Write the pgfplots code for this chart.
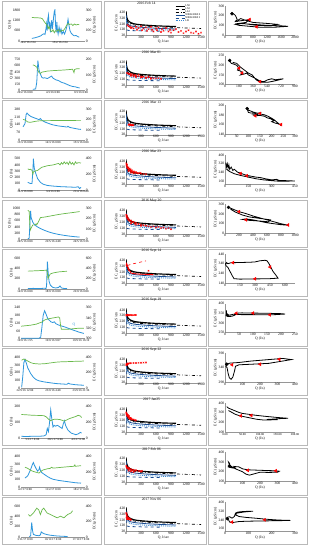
\documentclass[border=0pt]{standalone}
\usepackage{fontspec}
\setmainfont{Liberation Serif}
\usepackage{pgfplots}
\pgfplotsset{compat=1.18}
\usepackage{pgfplotstable}

\definecolor{qblue}{RGB}{45,150,220}
\definecolor{ecgreen}{RGB}{105,185,75}
\definecolor{wbnavy}{RGB}{25,75,145}
\definecolor{lrblue}{RGB}{55,135,210}
\definecolor{framegray}{RGB}{185,185,185}
\definecolor{axgray}{RGB}{150,150,150}
\newcommand\fs{\fontsize{3.7}{4.1}\selectfont}
\newcommand\fd{\fontsize{3.0}{3.3}\selectfont}
\newcommand\fl{\fontsize{2.8}{3}\selectfont}

\pgfplotstableread{
x y
2 430
5 400
10 360
20 320
40 280
70 255
100 240
150 225
200 215
300 205
400 198
500 192
600 187
800 180
1000 175
}\LSzero
\pgfplotstableread{
x y
2 420
5 390
10 350
20 305
40 265
70 240
100 228
200 210
300 200
400 193
500 188
600 184
}\LStwo
\pgfplotstableread{
x y
2 400
5 360
10 320
20 280
40 245
70 225
100 212
200 195
300 186
500 175
700 168
900 160
1100 153
1300 147
1500 140
}\LLtwo
\pgfplotstableread{
x y
2 380
5 330
10 290
20 250
40 215
70 195
100 185
200 170
400 155
600 145
800 138
1000 132
}\WBzero
\pgfplotstableread{
x y
2 220
5 160
10 130
20 115
50 108
100 105
300 100
500 97
700 95
}\WBtwo
\pgfplotstableread{
x y
2 350
5 290
10 250
20 215
40 185
70 165
100 155
200 140
400 128
600 120
800 114
1000 110
}\LRc

\pgfplotsset{
 base/.style={scale only axis, anchor=south west, font=\fs,
   tick label style={font=\fs, inner sep=0.6pt},
   label style={font=\fs, inner sep=0.6pt},
   /pgf/number format/assume math mode=true,
   /pgf/number format/1000 sep={},
   major tick length=0pt,
   axis line style={draw=axgray, line width=0.4pt},
   scaled ticks=false, clip=true},
 tsL/.style={base, at={(21pt,-40pt)}, width=64pt, height=32pt,
   axis x line*=bottom, axis y line*=left, y axis line style={draw=none},
   xticklabel style={font=\fd, inner sep=0.8pt},
   ylabel={Q (l/s)}, ymin=0},
 tsR/.style={base, at={(21pt,-40pt)}, width=64pt, height=32pt,
   axis x line=none, axis y line*=right, y axis line style={draw=none},
   ylabel={EC (µS/cm)}, ymin=0},
 tsx/.style={xmin=-0.143, xmax=2.143, xtick={0,1,2}},
 qline/.style={qblue, line width=0.8pt},
 ecline/.style={ecgreen, line width=0.7pt},
 ecq/.style={base, at={(126pt,-34.5pt)}, width=75pt, height=25pt,
   xmin=0, xmax=1500, ymin=20, ymax=450,
   xtick={0,300,...,1500}, ytick={20,120,220,320,420},
   axis x line*=bottom, axis y line*=left,
   xlabel={Q, l/sec}, ylabel={EC, µS/cm},
   title style={font=\fs, at={(0.34,0.99)}, anchor=south, inner sep=0.5pt}},
 hys/.style={base, at={(225pt,-34pt)}, width=70pt, height=29pt,
   axis x line*=bottom, axis y line*=left,
   xlabel={Q (l/s)}, ylabel={EC (µS/cm)}},
 hline/.style={black, line width=0.8pt},
 arr/.style={only marks, mark=triangle*, red, mark size=1.7pt, mark options={rotate=90}},
 start/.style={only marks, mark=*, black, mark size=1.5pt},
 redpts/.style={only marks, mark=x, red, mark size=1pt, line width=0.45pt},
}
\newcommand\refcurves{%
 \addplot[black, line width=1.1pt] table {\LSzero};
 \addplot[black, dashed, line width=0.7pt] table {\LStwo};
 \addplot[black, dash dot, line width=0.7pt] table {\LLtwo};
 \addplot[wbnavy, line width=0.8pt] table {\WBzero};
 \addplot[wbnavy, dashed, line width=0.8pt] table {\WBtwo};
 \addplot[lrblue, densely dotted, line width=0.9pt] table {\LRc};
}
\newcommand\frames{%
 \draw[framegray, line width=0.6pt] (2pt,-0.5pt) rectangle (101pt,-47.5pt);
 \draw[framegray, line width=0.6pt] (104pt,-0.5pt) rectangle (206pt,-47.5pt);
 \draw[framegray, line width=0.6pt] (208pt,-0.5pt) rectangle (307pt,-47.5pt);
}

\begin{document}
\begin{tikzpicture}
\fill[white] (0pt,0pt) rectangle (310pt,-550pt);
\useasboundingbox (0pt,0pt) rectangle (310pt,-550pt);

% ---------------- Row 1 ----------------
\begin{scope}[yshift=-1pt]
\frames
\begin{axis}[tsL, xmin=-0.22, xmax=1.78, xtick={0,1}, xticklabels={14/2/16 2:24,15/2/16 2:24}, ymax=1850, ytick={0,600,1200,1800}]
\addplot[qline] coordinates {(0.12,150)(0.2,180)(0.3,230)(0.4,300)(0.45,380)(0.5,420)(0.53,380)(0.56,700)(0.58,1000)(0.6,600)(0.62,1300)(0.64,1500)(0.66,800)(0.68,1100)(0.7,500)(0.72,900)(0.74,1200)(0.76,700)(0.78,1000)(0.8,1400)(0.82,1700)(0.84,1800)(0.86,900)(0.88,500)(0.9,1100)(0.92,600)(0.94,400)(0.97,800)(1.0,500)(1.03,700)(1.06,400)(1.1,550)(1.14,400)(1.18,600)(1.22,900)(1.25,1250)(1.28,900)(1.31,600)(1.35,450)(1.4,350)(1.45,300)(1.5,320)(1.55,260)(1.6,220)};
\end{axis}
\begin{axis}[tsR, xmin=-0.22, xmax=1.78, ymax=310, ytick={0,100,200,300}]
\addplot[ecline] coordinates {(0.12,228)(0.2,226)(0.3,225)(0.4,222)(0.45,215)(0.5,190)(0.55,170)(0.6,150)(0.63,120)(0.66,140)(0.7,100)(0.74,90)(0.78,110)(0.82,80)(0.86,100)(0.9,95)(0.95,110)(1.0,90)(1.05,105)(1.1,100)(1.15,120)(1.2,150)(1.25,170)(1.3,160)(1.35,165)(1.4,150)(1.45,165)(1.5,155)(1.55,160)(1.6,158)};
\end{axis}
\begin{axis}[ecq, title={2016 Feb 14}, title style={at={(0.27,0.99)}},
  legend entries={LS0,LS2,LL2,WB524069 0,WB524069 2,LR},
  legend style={at={(1,1.27)}, anchor=north east, font=\fl, draw=none, fill=white, inner sep=0.3pt, row sep=-0.8pt, nodes={inner sep=0.2pt}, cells={anchor=west}},
  legend image code/.code={\draw[#1] (0pt,0pt) -- (9pt,0pt);}]
\refcurves
\addplot[redpts] coordinates {(30,200)(50,180)(80,170)(100,150)(120,160)(150,140)(200,170)(220,120)(250,150)(300,180)(320,110)(350,140)(400,160)(420,100)(450,130)(500,170)(520,120)(550,90)(600,140)(620,110)(650,160)(700,80)(720,130)(750,100)(800,150)(850,90)(880,120)(900,70)(950,110)(1000,130)(1050,80)(1100,100)(1150,60)(1200,90)(1250,110)(1300,70)(1350,60)(1400,90)(1450,50)(1500,70)};
\end{axis}
\begin{axis}[hys, xmin=0, xmax=2000, ymin=0, ymax=300, xtick={0,400,...,2000}, ytick={0,100,200,300}]
\addplot[hline] coordinates {(200,220)(260,215)(300,200)(350,160)(300,140)(500,150)(700,160)(600,130)(400,120)(800,110)(1200,100)(1600,95)(1800,90)(1400,80)(1000,80)(700,90)(400,100)(300,110)(500,120)(900,100)(1300,95)(1500,110)(1200,120)(800,130)(600,150)(450,170)(400,160)(350,140)(300,150)};
\addplot[arr] coordinates {(700,160)(900,85)};
\addplot[start] coordinates {(200,220)};
\end{axis}
\end{scope}

% ---------------- Row 2 ----------------
\begin{scope}[yshift=-50.6pt]
\frames
\begin{axis}[tsL, tsx, xticklabels={29/2/16 0:00,4/3/16 0:00,9/3/16 0:00}, ymax=770, ytick={0,150,300,450,600,750}]
\addplot[qline] coordinates {(0.28,30)(0.38,40)(0.42,200)(0.46,720)(0.5,500)(0.55,400)(0.6,320)(0.65,300)(0.7,310)(0.8,290)(0.9,330)(0.95,350)(1.0,300)(1.1,260)(1.2,240)(1.3,200)(1.4,180)(1.5,150)(1.6,120)(1.7,100)(1.8,90)(1.9,70)(1.95,65)};
\end{axis}
\begin{axis}[tsR, tsx, ymax=205, ytick={0,100,200}]
\addplot[ecline] coordinates {(0.28,165)(0.35,160)(0.42,150)(0.46,130)(0.5,115)(0.55,110)(0.6,118)(0.8,125)(1.0,128)(1.2,130)(1.4,132)(1.6,135)(1.7,137)(1.75,115)(1.77,135)(1.85,140)(1.95,140)};
\end{axis}
\begin{axis}[ecq, title={2016 Mar 01}]
\refcurves
\addplot[redpts] coordinates {(20,230)(40,220)(60,210)(80,215)(100,200)(120,205)(150,190)(180,195)(200,180)(250,175)(300,170)(320,160)(350,165)(400,150)(450,155)(500,145)(550,140)(600,135)(650,140)(700,130)(100,180)(200,160)(300,150)(400,140)(500,130)(250,200)(150,170)(450,170)};
\end{axis}
\begin{axis}[hys, xmin=0, xmax=900, ymin=100, ymax=250, xtick={0,180,...,900}, ytick={100,150,200,250}]
\addplot[hline] coordinates {(60,225)(80,210)(120,205)(150,200)(180,185)(160,175)(200,170)(230,160)(200,150)(250,155)(280,160)(300,150)(350,140)(400,130)(450,118)(500,115)(550,125)(600,130)(650,125)(700,128)(750,130)(650,120)(550,112)(450,113)(400,125)(350,150)(300,160)(250,175)(200,190)(150,210)(100,215)};
\addplot[arr] coordinates {(180,185)(220,160)(450,115)};
\addplot[start] coordinates {(60,225)};
\end{axis}
\end{scope}

% ---------------- Row 3 ----------------
\begin{scope}[yshift=-100.2pt]
\frames
\begin{axis}[tsL, tsx, xticklabels={13/3/16 0:00,14/3/16 0:00,15/3/16 0:00}, ymax=288, ytick={0,70,140,210,280}]
\addplot[qline] coordinates {(-0.07,120)(0.0,150)(0.04,230)(0.07,245)(0.12,230)(0.2,215)(0.29,205)(0.4,195)(0.5,185)(0.55,195)(0.6,180)(0.7,165)(0.8,155)(0.91,145)(1.0,138)(1.2,128)(1.4,122)(1.5,118)(1.53,125)(1.6,115)(1.7,110)(1.8,105)(1.9,100)(2.0,97)};
\end{axis}
\begin{axis}[tsR, tsx, ymax=308, ytick={0,100,200,300}]
\addplot[ecline] coordinates {(-0.07,200)(0.0,195)(0.05,185)(0.1,175)(0.2,172)(0.3,178)(0.4,183)(0.5,186)(0.7,188)(1.0,189)(1.5,190)(2.0,191)};
\end{axis}
\begin{axis}[ecq, title={2016 Mar 13}]
\refcurves
\addplot[redpts] coordinates {(50,195)(60,190)(70,200)(80,185)(90,192)(100,188)(110,183)(120,190)(130,185)(140,182)(150,180)};
\end{axis}
\begin{axis}[hys, xmin=0, xmax=300, ymin=140, ymax=200, xtick={0,50,...,300}, ytick={140,160,180,200}]
\addplot[hline] coordinates {(95,193)(98,188)(100,185)(110,184)(130,183)(150,184)(140,181)(120,180)(130,178)(150,179)(170,177)(180,174)(195,172)(210,168)(200,166)(215,163)(225,162)(235,160)(240,158)(230,162)(220,166)(210,170)(200,173)(185,177)(170,180)(150,182)(120,186)(100,190)(95,193)};
\addplot[arr] coordinates {(150,183)(130,178)(240,160)};
\addplot[start] coordinates {(95,193)};
\end{axis}
\end{scope}

% ---------------- Row 4 ----------------
\begin{scope}[yshift=-149.8pt]
\frames
\begin{axis}[tsL, tsx, xticklabels={16/3/16 0:00,3/4/16 0:00,21/4/16 0:00}, ymax=515, ytick={0,100,200,300,400,500}]
\addplot[qline] coordinates {(0.1,120)(0.15,110)(0.2,100)(0.25,100)(0.28,300)(0.3,500)(0.33,350)(0.38,270)(0.45,180)(0.55,120)(0.65,90)(0.8,70)(1.0,60)(1.3,50)(1.6,45)(1.8,40)(1.9,50)(1.95,20)(2.0,40)};
\end{axis}
\begin{axis}[tsR, tsx, ymax=412, ytick={0,200,400}]
\addplot[ecline] coordinates {(0.1,270)(0.15,260)(0.2,265)(0.25,250)(0.28,200)(0.3,230)(0.35,240)(0.45,250)(0.6,290)(0.8,310)(1.0,320)(1.1,330)(1.2,340)(1.25,320)(1.3,350)(1.35,330)(1.4,360)(1.45,335)(1.5,355)(1.55,325)(1.6,365)(1.65,330)(1.7,350)(1.75,320)(1.8,360)(1.85,340)(1.9,350)(2.0,345)};
\end{axis}
\begin{axis}[ecq, title={2016 Mar 23}]
\refcurves
\addplot[redpts] coordinates {(5,380)(10,350)(15,330)(20,360)(25,300)(30,320)(40,290)(50,310)(60,270)(70,290)(80,260)(90,280)(100,250)(110,240)(120,260)(140,230)(160,240)(180,220)(200,230)(220,215)(250,210)(280,220)(300,205)(350,200)(400,195)(50,250)(100,220)(150,210)};
\end{axis}
\begin{axis}[hys, xmin=0, xmax=450, ymin=140, ymax=400, xtick={0,150,300,450}, ytick={160,240,320,400}]
\addplot[hline] coordinates {(5,330)(10,290)(15,320)(20,280)(25,310)(30,270)(40,290)(50,260)(60,270)(80,245)(100,235)(130,220)(160,210)(200,200)(230,195)(260,185)(300,175)(330,180)(350,170)(400,168)(450,165)(350,163)(300,168)(250,175)(200,185)(150,200)(100,215)(60,230)(30,250)(10,270)};
\addplot[arr] coordinates {(100,232)(140,212)};
\end{axis}
\end{scope}

% ---------------- Row 5 ----------------
\begin{scope}[yshift=-199.4pt]
\frames
\begin{axis}[tsL, tsx, xticklabels={20/5/16 0:00,22/5/16 4:48,24/5/16 9:36}, ymax=1030, ytick={0,200,400,600,800,1000}]
\addplot[qline] coordinates {(0.1,20)(0.15,40)(0.18,600)(0.2,920)(0.22,700)(0.28,550)(0.35,460)(0.45,400)(0.55,350)(0.7,290)(0.85,240)(1.0,200)(1.2,160)(1.4,130)(1.6,105)(1.8,85)(1.95,75)};
\end{axis}
\begin{axis}[tsR, tsx, ymax=308, ytick={0,100,200,300}]
\addplot[ecline] coordinates {(0.1,280)(0.15,270)(0.17,150)(0.19,90)(0.22,110)(0.28,140)(0.35,140)(0.4,150)(0.42,140)(0.5,180)(0.55,210)(0.7,215)(0.8,220)(1.0,230)(1.2,240)(1.4,248)(1.6,255)(1.8,262)(1.95,268)};
\end{axis}
\begin{axis}[ecq, title={2016 May 20}]
\refcurves
\addplot[redpts] coordinates {(5,350)(10,320)(15,300)(20,330)(30,280)(40,300)(50,260)(60,270)(80,240)(100,250)(120,220)(150,230)(180,200)(200,210)(250,190)(300,180)(350,170)(400,160)(450,150)(500,140)(550,150)(600,130)(650,140)(700,120)(750,130)(800,110)(850,120)(900,100)(100,200)(200,180)(300,160)};
\end{axis}
\begin{axis}[hys, xmin=0, xmax=1000, ymin=0, ymax=300, xtick={0,200,...,1000}, ytick={0,100,200,300}]
\addplot[hline] coordinates {(50,270)(100,255)(150,240)(200,225)(300,205)(400,180)(500,160)(600,140)(700,120)(800,100)(900,85)(800,90)(700,100)(600,110)(500,125)(400,140)(300,150)(250,145)(350,135)(450,130)(550,125)(620,120)(650,140)(600,145)(500,155)(350,170)(250,190)(150,220)(80,250)};
\addplot[arr] coordinates {(200,225)(300,140)(900,87)};
\addplot[start] coordinates {(50,270)};
\end{axis}
\end{scope}

% ---------------- Row 6 ----------------
\begin{scope}[yshift=-249pt]
\frames
\begin{axis}[tsL, tsx, xticklabels={14/9/16 0:00,18/9/16 0:00,22/9/16 0:00}, ymax=618, ytick={0,200,400,600}]
\addplot[qline] coordinates {(0.1,10)(0.3,12)(0.5,8)(0.7,15)(0.75,10)(0.77,60)(0.8,530)(0.83,300)(0.86,150)(0.9,80)(0.95,50)(1.0,30)(1.1,20)(1.2,30)(1.25,60)(1.3,20)(1.4,10)(1.5,8)};
\end{axis}
\begin{axis}[tsR, tsx, ymax=618, ytick={0,200,400,600}]
\addplot[ecline] coordinates {(0.1,345)(0.3,350)(0.5,355)(0.7,360)(0.78,365)(0.8,300)(0.82,200)(0.86,250)(0.9,290)(1.0,310)(1.1,320)(1.2,330)(1.3,335)(1.4,340)(1.5,342)};
\end{axis}
\begin{axis}[ecq, title={2016 Sept 14}]
\refcurves
\addplot[red, line width=0.9pt] coordinates {(5,380)(10,360)(20,340)(30,320)(40,300)(50,280)(60,260)(80,230)(100,200)(150,190)(200,185)(300,180)(400,178)(500,175)(550,170)};
\addplot[red, dashed, line width=0.6pt] coordinates {(30,330)(100,350)(200,370)(300,390)(400,410)};
\addplot[redpts] coordinates {(10,340)(20,320)(40,280)(60,250)(450,240)};
\end{axis}
\begin{axis}[hys, xmin=0, xmax=700, ymin=140, ymax=440, xtick={0,150,300,450,600}, ytick={140,240,340,440}]
\addplot[hline] coordinates {(10,320)(5,340)(20,355)(10,345)(30,340)(60,350)(150,352)(250,355)(300,358)(350,370)(400,375)(420,370)(440,340)(460,300)(480,260)(510,220)(530,190)(450,185)(350,183)(250,182)(150,180)(90,185)(70,220)(50,260)(30,300)(10,320)};
\addplot[arr] coordinates {(80,350)(450,305)(300,183)};
\end{axis}
\end{scope}

% ---------------- Row 7 ----------------
\begin{scope}[yshift=-298.6pt]
\frames
\begin{axis}[tsL, tsx, xticklabels={19/9/16 1:55,19/9/16 9:07,19/9/16 16:19}, ymax=247, ytick={0,60,120,180,240},
  after end axis/.code={\node[font=\fs, qblue] at (axis cs:1.75,105) {Q};}]
\addplot[qline] coordinates {(-0.14,2)(0.2,2)(0.5,3)(0.56,10)(0.6,80)(0.65,180)(0.7,215)(0.75,190)(0.82,150)(0.88,140)(0.92,130)(0.99,124)(1.05,130)(1.1,115)(1.2,105)(1.3,98)(1.46,87)(1.6,75)(1.8,60)(1.93,50)(2.1,40)};
\end{axis}
\begin{axis}[tsR, tsx, ymin=300, ymax=362, ytick={300,320,340,360}]
\addplot[ecline] coordinates {(-0.14,324)(0.2,326)(0.4,328)(0.6,332)(0.7,336)(0.8,338)(1.0,340)(1.2,342)(1.24,340)(1.27,325)(1.3,318)(1.5,318)(1.7,319)(1.9,320)(2.1,320)};
\end{axis}
\begin{axis}[ecq, title={2016 Sept 19}]
\refcurves
\addplot[redpts] coordinates {(5,330)(10,320)(15,325)(20,335)(30,330)(40,325)(50,330)(60,328)(80,330)(100,330)(120,328)(150,330)(180,332)(200,330)};
\end{axis}
\begin{axis}[hys, xmin=0, xmax=250, ymin=250, ymax=400, xtick={0,50,...,250}, ytick={250,300,350,400}]
\addplot[hline] coordinates {(5,365)(5,345)(8,335)(15,333)(25,335)(35,340)(40,350)(60,352)(100,351)(150,350)(200,348)(215,346)(180,343)(150,342)(100,343)(60,343)(30,345)(15,340)(5,342)};
\addplot[arr] coordinates {(40,350)(100,351)(160,342)};
\addplot[start] coordinates {(8,340)};
\end{axis}
\end{scope}

% ---------------- Row 8 ----------------
\begin{scope}[yshift=-348.2pt]
\frames
\begin{axis}[tsL, tsx, xticklabels={22/9/16 12:00,23/9/16 4:48,23/9/16 21:36}, ymax=412, ytick={0,100,200,300,400}]
\addplot[qline] coordinates {(-0.12,10)(-0.08,150)(-0.04,330)(0.0,370)(0.05,320)(0.1,260)(0.2,190)(0.3,140)(0.4,110)(0.5,95)(0.7,80)(0.9,70)(1.1,60)(1.3,55)(1.5,50)(1.55,65)(1.6,55)(1.8,45)(2.0,40)(2.1,38)};
\end{axis}
\begin{axis}[tsR, tsx, ymax=412, ytick={0,200,400}]
\addplot[ecline] coordinates {(-0.12,360)(-0.05,375)(0.0,370)(0.1,350)(0.2,330)(0.3,318)(0.5,312)(0.7,315)(0.9,325)(1.1,335)(1.3,340)(1.5,342)(1.7,345)(2.0,348)(2.1,350)};
\end{axis}
\begin{axis}[ecq, title={2016 Sept 22}]
\refcurves
\addplot[redpts] coordinates {(5,320)(10,340)(20,345)(30,350)(50,352)(80,355)(100,356)(150,358)(200,360)(250,362)(300,364)(350,366)(400,368)(20,330)(40,340)};
\end{axis}
\begin{axis}[hys, xmin=0, xmax=400, ymin=290, ymax=390, xtick={0,100,...,400}, ytick={290,340,390}]
\addplot[hline] coordinates {(10,352)(5,345)(12,340)(18,320)(25,305)(35,300)(45,308)(55,330)(60,345)(80,350)(150,352)(250,355)(320,362)(380,368)(330,372)(250,368)(150,363)(80,358)(30,356)(10,352)};
\addplot[arr] coordinates {(40,350)(200,352)(310,369)};
\addplot[start] coordinates {(10,352)};
\end{axis}
\end{scope}

% ---------------- Row 9 ----------------
\begin{scope}[yshift=-397.8pt]
\frames
\begin{axis}[tsL, xmin=-0.5, xmax=2.3, xtick={0,1,2}, xticklabels={5/1/17 0:00,20/1/17 0:00,4/2/17 0:00}, ymax=206, ytick={0,100,200}]
\addplot[qline] coordinates {(-0.48,10)(-0.3,8)(0,10)(0.3,10)(0.5,12)(0.6,20)(0.65,60)(0.7,40)(0.75,100)(0.8,180)(0.85,120)(0.9,70)(0.95,80)(1.0,75)(1.1,80)(1.2,70)(1.3,60)(1.35,90)(1.4,110)(1.45,80)(1.55,50)(1.7,30)(1.9,20)(2.0,25)(2.1,35)(2.15,30)};
\end{axis}
\begin{axis}[tsR, xmin=-0.5, xmax=2.3, ymax=412, ytick={0,200,400}]
\addplot[ecline] coordinates {(-0.48,300)(-0.2,295)(0,290)(0.3,288)(0.5,285)(0.6,270)(0.7,240)(0.8,220)(0.9,235)(1.0,240)(1.1,238)(1.2,235)(1.3,225)(1.4,215)(1.5,230)(1.6,245)(1.7,255)(1.8,265)(1.9,275)(2.0,290)(2.1,280)(2.15,260)};
\end{axis}
\begin{axis}[ecq, title={2017 Jan25}]
\refcurves
\addplot[redpts] coordinates {(5,360)(10,340)(15,320)(20,330)(25,300)(30,310)(40,290)(50,280)(60,270)(70,260)(80,250)(90,270)(100,260)(110,250)(120,240)(150,240)(180,230)(200,225)(60,300)(40,320)};
\end{axis}
\begin{axis}[hys, xmin=0, xmax=200, ymin=100, ymax=400, xtick={0,50,...,200}, xticklabels={0.00,50.00,100.00,150.00,200.00}, xticklabel style={font=\fd, yshift=-0.6pt}, ytick={100,200,300,400}]
\addplot[hline] coordinates {(5,360)(10,345)(20,330)(30,315)(40,300)(50,290)(70,280)(90,270)(110,262)(130,255)(150,248)(180,240)(160,237)(140,232)(120,228)(150,225)(110,222)(90,230)(70,245)(50,260)(40,268)(30,280)(20,300)(10,320)};
\addplot[arr] coordinates {(45,265)(75,270)};
\end{axis}
\end{scope}

% ---------------- Row 10 ----------------
\begin{scope}[yshift=-447.4pt]
\frames
\begin{axis}[tsL, tsx, xticklabels={4/2/17 0:00,11/2/17 0:00,18/2/17 0:00}, ymax=412, ytick={0,100,200,300,400}]
\addplot[qline] coordinates {(0.0,120)(0.1,150)(0.2,230)(0.27,300)(0.3,320)(0.33,290)(0.4,240)(0.45,210)(0.5,230)(0.52,260)(0.55,220)(0.6,190)(0.7,165)(0.8,140)(0.9,120)(1.0,105)(1.2,90)(1.4,80)(1.6,70)(1.8,60)(2.0,55)};
\end{axis}
\begin{axis}[tsR, tsx, ymax=412, ytick={0,200,400}]
\addplot[ecline] coordinates {(0.0,260)(0.1,245)(0.2,220)(0.3,205)(0.4,195)(0.5,185)(0.55,200)(0.6,215)(0.65,225)(0.8,240)(0.9,245)(0.95,260)(1.0,248)(1.2,255)(1.4,262)(1.6,268)(1.75,272)(1.78,290)(1.8,272)(2.0,280)};
\end{axis}
\begin{axis}[ecq, title={2017 Feb 06}]
\refcurves
\addplot[redpts] coordinates {(5,300)(10,280)(20,260)(30,270)(40,250)(50,240)(60,260)(80,230)(100,240)(120,220)(150,230)(180,210)(200,220)(250,210)(280,205)(300,200)(320,210)(100,200)(150,190)(50,210)};
\end{axis}
\begin{axis}[hys, xmin=0, xmax=400, ymin=100, ymax=400, xtick={0,100,...,400}, ytick={100,200,300,400}]
\addplot[hline] coordinates {(25,270)(20,300)(25,290)(30,260)(20,250)(40,240)(60,235)(50,255)(80,250)(100,230)(130,220)(160,218)(200,215)(250,212)(290,210)(310,205)(300,195)(250,193)(200,195)(170,180)(140,165)(120,175)(100,200)(60,230)(40,250)(30,265)};
\addplot[arr] coordinates {(130,215)(290,210)};
\addplot[start] coordinates {(25,260)};
\end{axis}
\end{scope}

% ---------------- Row 11 ----------------
\begin{scope}[yshift=-497pt]
\frames
\begin{axis}[tsL, tsx, xticklabels={3/11/17 0:00,10/11/17 0:00,17/11/17 0:00}, ymax=618, ytick={0,200,400,600}]
\addplot[qline] coordinates {(0.15,10)(0.2,20)(0.22,150)(0.24,280)(0.27,120)(0.3,50)(0.4,30)(0.5,25)(0.55,40)(0.58,100)(0.62,80)(0.7,60)(0.8,45)(0.9,35)(1.0,28)(1.15,20)(1.3,15)(1.52,10)};
\end{axis}
\begin{axis}[tsR, tsx, ymax=412, ytick={0,200,400}]
\addplot[ecline] coordinates {(0.12,289)(0.18,268)(0.3,309)(0.42,371)(0.49,350)(0.55,289)(0.61,350)(0.67,371)(0.79,309)(0.91,289)(1.03,268)(1.15,247)(1.27,268)(1.39,247)(1.52,289)(1.64,309)(1.7,338)};
\end{axis}
\begin{axis}[ecq, title={2017 Nov 06}]
\refcurves
\addplot[redpts] coordinates {(5,340)(10,320)(15,300)(20,280)(25,260)(30,250)(40,240)(50,230)(60,250)(70,240)(80,230)(90,220)(100,225)(20,230)(40,260)(10,260)};
\end{axis}
\begin{axis}[hys, xmin=0, xmax=300, ymin=140, ymax=400, xtick={0,100,200,300}, ytick={160,240,320,400}]
\addplot[hline] coordinates {(10,250)(8,262)(20,268)(30,255)(40,270)(45,300)(55,310)(80,315)(120,318)(80,310)(50,300)(45,285)(60,270)(90,262)(130,255)(180,245)(230,238)(280,235)(220,232)(150,230)(100,228)(60,225)(30,215)(20,220)(15,240)(10,250)};
\addplot[arr] coordinates {(30,220)(170,240)};
\addplot[start] coordinates {(10,250)};
\end{axis}
\end{scope}

\end{tikzpicture}
\end{document}
